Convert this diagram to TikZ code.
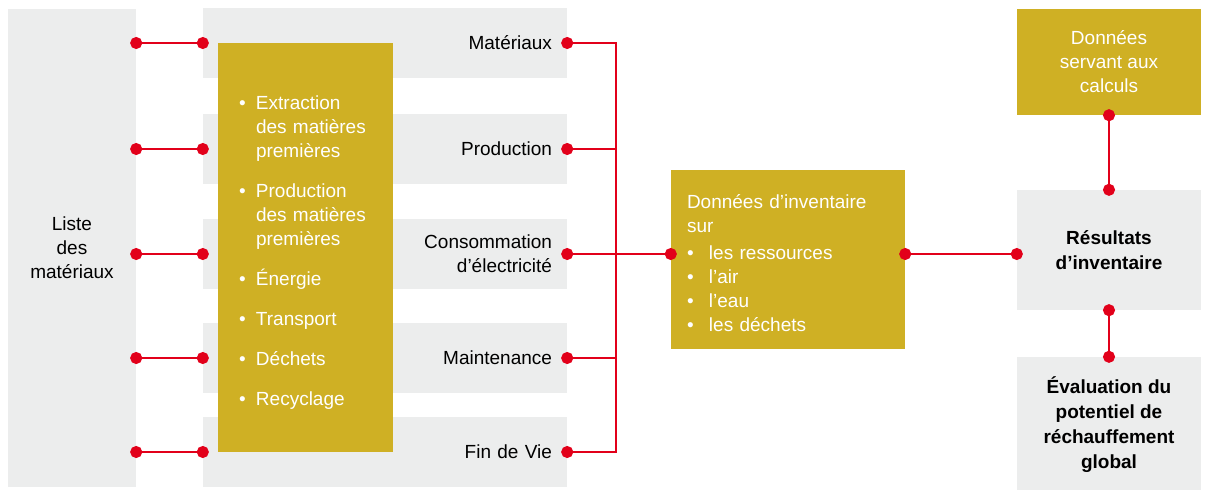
\documentclass[tikz,border=0pt]{standalone}
\usepackage{fontspec}
\setmainfont{Liberation Sans}
\usetikzlibrary{arrows.meta}

\definecolor{boxgrey}{HTML}{ECEDED}
\definecolor{boxgold}{HTML}{CFB024}
\definecolor{linkred}{HTML}{E2001A}

% bullet line with hanging indent
\newcommand{\bitem}[2][17pt]{\par\hangindent=#1\hangafter=1\noindent\makebox[#1][l]{\textbullet}#2}

\begin{document}
\begin{tikzpicture}[x=1pt, y=-1pt,
    font=\fontsize{19}{24}\selectfont,
    greybox/.style={rectangle, fill=boxgrey, inner sep=0pt, text=black},
    goldbox/.style={rectangle, fill=boxgold, inner sep=0pt, text=white},
    rowbox/.style={greybox, minimum height=70pt, text width=334pt, inner xsep=15pt, align=right},
    boldbox/.style={greybox, minimum width=184pt, align=center, font=\fontsize{19}{25}\selectfont\bfseries},
    wire/.style={draw=linkred, line width=2pt},
    link/.style={wire, {Circle[length=12pt]}-{Circle[length=12pt]}, shorten <=-6pt, shorten >=-6pt},
    stub/.style={wire, {Circle[length=12pt]}-, shorten <=-6pt}]

    \useasboundingbox (0,0) rectangle (1205,490);

    % Boxes
    \node[greybox, minimum width=128pt, minimum height=478pt, align=center] (liste) at (72,248) {Liste\\des\\matériaux};
    \node[rowbox] (mat) at (385,43) {Matériaux};
    \node[rowbox] (prod) at (385,149) {Production};
    \node[rowbox] (conso) at (385,254) {Consommation\\d’électricité};
    \node[rowbox] (maint) at (385,358) {Maintenance};
    \node[rowbox] (fin) at (385,452) {Fin de Vie};
    \node[goldbox, minimum height=409pt, text width=133pt, inner xsep=21pt] (etapes) at (305.5,247.5) {%
        \setlength{\parskip}{16pt}%
        \bitem{Extraction\newline des matières\newline premières}%
        \bitem{Production\newline des matières\newline premières}%
        \bitem{Énergie}%
        \bitem{Transport}%
        \bitem{Déchets}%
        \bitem{Recyclage}\par\vspace{0pt}\kern16pt};
    \node[goldbox, minimum width=234pt, minimum height=179pt, text width=202pt, inner xsep=16pt] (inv) at (788,259.5) {%
        \noindent Données d’inventaire\newline sur\par\vspace{3pt}%
        \bitem[22pt]{les ressources}%
        \bitem[22pt]{l’air}%
        \bitem[22pt]{l’eau}%
        \bitem[22pt]{les déchets}\par\vspace{-7pt}};
    \node[goldbox, minimum width=184pt, minimum height=106pt, align=center] (calc) at (1109,62) {Données\\servant aux\\calculs};
    \node[boldbox, minimum height=120pt] (res) at (1109,250) {Résultats\\d’inventaire};
    \node[boldbox, minimum height=135pt] (eval) at (1109,424.5) {Évaluation du\\potentiel de\\réchauffement\\global};

    % Connectors
    \foreach \r in {mat,prod,conso,maint,fin}
        \draw[link] (liste.east |- \r.west) -- (\r.west);
    \coordinate (bus) at (616,0);
    \draw[wire, line cap=rect] (mat.east -| bus) -- (fin.east -| bus);
    \foreach \r in {mat,prod,maint,fin}
        \draw[stub] (\r.east) -- (\r.east -| bus);
    \draw[link] (conso.east) -- (inv.west |- conso.east);
    \draw[link] (inv.east |- conso.east) -- (res.west |- conso.east);
    \draw[link] (calc.south) -- (res.north);
    \draw[link] (res.south) -- (eval.north);

\end{tikzpicture}
\end{document}
